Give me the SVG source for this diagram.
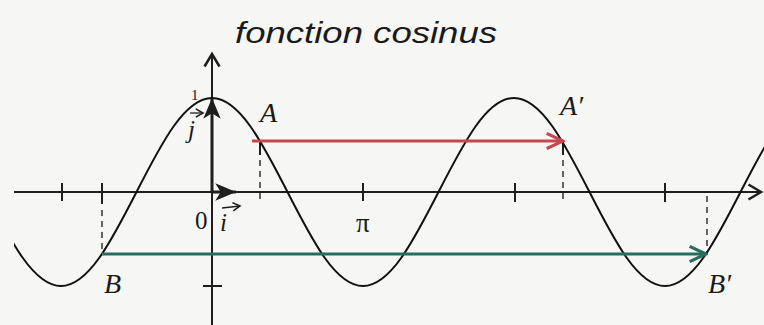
<svg xmlns="http://www.w3.org/2000/svg" width="764" height="325" viewBox="0 0 764 325">
<style>
.ax{stroke:#1e1e1e;stroke-width:2;fill:none}
.tk{stroke:#1e1e1e;stroke-width:2;fill:none}
.dash{stroke:#333;stroke-width:1.5;stroke-dasharray:6 5;fill:none}
.curve{stroke:#111;stroke-width:2;fill:none}
.lbl{font-family:"Liberation Serif","DejaVu Serif",serif;font-style:italic;fill:#1a1a1a}
.num{font-family:"Liberation Serif","DejaVu Serif",serif;fill:#1a1a1a}
.title{font-family:"Liberation Sans",Arial,sans-serif;font-style:italic;fill:#1a1a1a}
.red{stroke:#c4474f;stroke-width:3;fill:none}
.green{stroke:#2b6b5c;stroke-width:3;fill:none}
</style>
<defs>
<marker id="axh" markerUnits="userSpaceOnUse" markerWidth="20" markerHeight="20" viewBox="-12 -8 14 16" refX="0" refY="0" orient="auto">
<path d="M-10 -6 L0 0 L-10 6" stroke="#1e1e1e" stroke-width="2" fill="none"/>
</marker>
<marker id="vh" markerUnits="userSpaceOnUse" markerWidth="24" markerHeight="24" viewBox="-20 -10 22 20" refX="0" refY="0" orient="auto">
<path d="M-19 -8 L0 0 L-19 8 L-14 0 Z" fill="#1e1e1e"/>
</marker>
<marker id="rh" markerUnits="userSpaceOnUse" markerWidth="24" markerHeight="24" viewBox="-20 -10 22 20" refX="0" refY="0" orient="auto">
<path d="M-15 -7 L0 0 L-15 7" stroke="#c4474f" stroke-width="3" fill="none"/>
</marker>
<marker id="gh" markerUnits="userSpaceOnUse" markerWidth="24" markerHeight="24" viewBox="-20 -10 22 20" refX="0" refY="0" orient="auto">
<path d="M-15 -7 L0 0 L-15 7" stroke="#2b6b5c" stroke-width="3" fill="none"/>
</marker>
<marker id="sh" markerUnits="userSpaceOnUse" markerWidth="12" markerHeight="12" viewBox="-8 -5 10 10" refX="0" refY="0" orient="auto">
<path d="M-6 -3.5 L0 0 L-6 3.5" stroke="#1e1e1e" stroke-width="1.3" fill="none"/>
</marker>
<clipPath id="cc"><rect x="14" y="0" width="750" height="325"/></clipPath>
</defs>
<rect width="764" height="325" fill="#f6f6f4"/>

<text class="title" x="235" y="43" font-size="30" textLength="262" lengthAdjust="spacingAndGlyphs">fonction cosinus</text>

<g id="axes">
<line class="ax" x1="14" y1="192" x2="761" y2="192" marker-end="url(#axh)"/>
<line class="ax" x1="212" y1="325" x2="212" y2="54" marker-end="url(#axh)"/>
<g class="tk">
<line x1="62" y1="183" x2="62" y2="201"/>
<line x1="102" y1="183" x2="102" y2="204"/>
<line x1="363" y1="183" x2="363" y2="201"/>
<line x1="515" y1="183" x2="515" y2="202"/>
<line x1="665" y1="183" x2="665" y2="202"/>
<line x1="203" y1="286" x2="222" y2="286"/>
<line x1="260" y1="141" x2="260" y2="155"/>
<line x1="563" y1="141" x2="563" y2="155"/>
</g>
<g class="dash">
<line x1="260" y1="160" x2="260" y2="202"/>
<line x1="563" y1="160" x2="563" y2="202"/>
<line x1="102" y1="210" x2="102" y2="253"/>
<line x1="707" y1="196" x2="707" y2="253"/>
</g>
</g>

<g id="curve">
<path class="curve" clip-path="url(#cc)" d="M-14.5 192 C10.74 241.36 33.77 286 61 286 C88.23 286 111.26 241.36 136.5 192 C161.74 142.64 184.77 98 212 98 C239.23 98 262.26 142.64 287.5 192 C312.74 241.36 335.77 286 363 286 C390.23 286 413.26 241.36 438.5 192 C463.74 142.64 486.77 98 514 98 C541.23 98 564.26 142.64 589.5 192 C614.74 241.36 637.77 286 665 286 C692.23 286 715.26 241.36 740.5 192 C765.74 142.64 788.77 98 816 98"/>
</g>

<g id="vectors">
<line x1="212" y1="192" x2="212" y2="98" stroke="#1e1e1e" stroke-width="3" marker-end="url(#vh)"/>
<line x1="212" y1="192" x2="236" y2="192" stroke="#1e1e1e" stroke-width="3" marker-end="url(#vh)"/>
</g>

<g id="connectors">
<line class="red" x1="252" y1="141" x2="563" y2="141" marker-end="url(#rh)"/>
<line class="green" x1="102" y1="254" x2="706" y2="254" marker-end="url(#gh)"/>
</g>

<g id="node-A"><text class="lbl" x="260" y="122" font-size="28">A</text></g>
<g id="node-A2"><text class="lbl" x="560" y="115" font-size="28">A′</text></g>
<g id="node-B"><text class="lbl" x="104" y="293" font-size="28">B</text></g>
<g id="node-B2"><text class="lbl" x="708" y="293" font-size="28">B′</text></g>

<g id="labels">
<text class="num" x="191" y="100" font-size="15">1</text>
<text class="lbl" x="188" y="138" font-size="25">j</text>
<line x1="190" y1="113" x2="203" y2="113" stroke="#1e1e1e" stroke-width="1.3" marker-end="url(#sh)"/>
<text class="num" x="195" y="229" font-size="25">0</text>
<text class="lbl" x="220" y="231" font-size="25">i</text>
<line x1="222" y1="208" x2="240" y2="206" stroke="#1e1e1e" stroke-width="1.3" marker-end="url(#sh)"/>
<text class="num" x="356" y="232" font-size="27">π</text>
</g>
</svg>
